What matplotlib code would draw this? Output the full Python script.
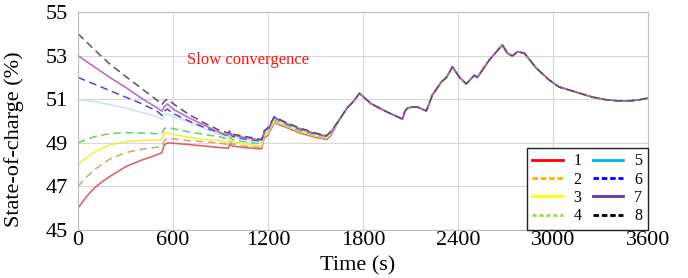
import matplotlib
matplotlib.use("Agg")
import matplotlib.pyplot as plt
from matplotlib.lines import Line2D

plt.rcParams['font.family'] = ['Liberation Serif', 'DejaVu Serif']

# ---- data ----
t_early = [0, 50, 100, 150, 200, 300, 400, 500, 530, 545, 565, 600, 700, 800, 900,
           950, 958, 975, 1050, 1160, 1175, 1200, 1240, 1300, 1400, 1500, 1570, 1600]

soc1 = [46.0, 46.5, 46.9, 47.2, 47.45, 47.9, 48.2, 48.45, 48.55, 48.9, 49.0, 48.98, 48.92, 48.85, 48.78,
        48.75, 48.95, 48.85, 48.78, 48.72, 49.2, 49.35, 49.92, 49.75, 49.45, 49.25, 49.15, 49.35]
soc2 = [47.0, 47.4, 47.75, 48.0, 48.25, 48.55, 48.7, 48.8, 48.85, 49.1, 49.22, 49.18, 49.1, 49.05, 48.98,
        48.92, 49.08, 48.95, 48.85, 48.78, 49.25, 49.4, 49.95, 49.78, 49.48, 49.28, 49.18, 49.38]
soc3 = [48.0, 48.3, 48.55, 48.75, 48.9, 49.05, 49.1, 49.12, 49.15, 49.4, 49.45, 49.38, 49.25, 49.15, 49.1,
        49.0, 49.2, 49.05, 48.95, 48.85, 49.3, 49.45, 50.0, 49.82, 49.52, 49.32, 49.22, 49.42]
soc4 = [49.0, 49.15, 49.27, 49.35, 49.42, 49.47, 49.45, 49.42, 49.42, 49.65, 49.72, 49.65, 49.5, 49.38, 49.27,
        49.15, 49.3, 49.15, 49.05, 48.95, 49.35, 49.5, 50.05, 49.85, 49.55, 49.35, 49.25, 49.45]
soc5 = [51.0, 50.95, 50.9, 50.82, 50.75, 50.6, 50.4, 50.2, 50.05, 50.25, 50.35, 50.2, 49.95, 49.65, 49.35,
        49.25, 49.4, 49.25, 49.15, 49.0, 49.4, 49.55, 50.1, 49.9, 49.6, 49.38, 49.27, 49.47]
soc6 = [52.0, 51.85, 51.7, 51.55, 51.4, 51.1, 50.8, 50.45, 50.25, 50.45, 50.55, 50.35, 50.0, 49.7, 49.45,
        49.3, 49.45, 49.3, 49.18, 49.08, 49.45, 49.6, 50.15, 49.92, 49.62, 49.4, 49.3, 49.5]
soc7 = [53.0, 52.75, 52.5, 52.25, 52.0, 51.55, 51.05, 50.6, 50.45, 50.65, 50.78, 50.55, 50.15, 49.8, 49.45,
        49.35, 49.5, 49.35, 49.25, 49.12, 49.5, 49.65, 50.18, 49.95, 49.65, 49.42, 49.32, 49.52]
soc8 = [54.0, 53.65, 53.3, 52.95, 52.62, 52.05, 51.5, 50.95, 50.75, 50.9, 51.0, 50.8, 50.3, 49.9, 49.55,
        49.45, 49.55, 49.4, 49.3, 49.15, 49.55, 49.7, 50.2, 49.98, 49.68, 49.45, 49.33, 49.55]

t_tail = [1650, 1700, 1740, 1778, 1850, 1950, 2049, 2065, 2081, 2113, 2144, 2200, 2238, 2295, 2327,
          2365, 2408, 2452, 2503, 2522, 2598, 2680, 2711, 2743, 2774, 2818, 2894, 2976, 3039, 3121,
          3247, 3330, 3417, 3480, 3543, 3600]
soc_tail = [50.05, 50.6, 50.9, 51.27, 50.8, 50.42, 50.09, 50.45, 50.6, 50.64, 50.64, 50.46, 51.19, 51.79, 52.0,
            52.48, 52.02, 51.7, 52.1, 52.0, 52.8, 53.49, 53.12, 52.98, 53.17, 53.12, 52.43, 51.88, 51.56, 51.38,
            51.1, 50.98, 50.92, 50.92, 50.97, 51.05]

series = [soc1, soc2, soc3, soc4, soc5, soc6, soc7, soc8]
labels = ['1', '2', '3', '4', '5', '6', '7', '8']
x_ticks = [0, 600, 1200, 1800, 2400, 3000, 3600]
y_ticks = [45, 47, 49, 51, 53, 55]

# ---- styles ----
plot_colors = ['#e05a5a', '#d9a07a', '#f2ee40', '#5fd35f', '#c8e4f4', '#4a4ad8', '#c060c8', '#555555']
plot_styles = ['-', (0, (5, 3)), '-', (0, (5, 3)), '-', (0, (5, 3)), '-', (0, (5, 3))]
leg_colors = ['#ff0000', '#ffb000', '#ffff00', '#99dd55', '#00b0f0', '#0000ff', '#7030a0', '#000000']
leg_styles = ['-', (0, (2, 1)), '-', (0, (1.5, 1)), '-', (0, (2, 1)), '-', (0, (2, 1))]

fig = plt.figure(figsize=(6.88, 2.78), dpi=100)
ax = fig.add_axes([78 / 688, 1 - 230 / 278, 570 / 688, 218 / 278])

t_full = t_early + t_tail
for s, c, ls in zip(series, plot_colors, plot_styles):
    ax.plot(t_full, s + soc_tail, color=c, linestyle=ls, linewidth=1.1)

ax.set_xlim(0, 3600)
ax.set_ylim(45, 55)
ax.set_xticks(x_ticks)
ax.set_yticks(y_ticks)
ax.tick_params(length=0, labelsize=16)
ax.tick_params(axis='y', pad=7)
ax.tick_params(axis='x', pad=1)
ax.grid(True, color='#d8d8d8', linewidth=0.8)
ax.set_axisbelow(True)
for sp in ax.spines.values():
    sp.set_color('#bdbdbd')
    sp.set_linewidth(0.8)

ax.set_xlabel('Time (s)', fontsize=16, labelpad=-4)
ax.xaxis.set_label_coords(0.49, -0.12, transform=ax.transAxes)
ax.xaxis.label.set_va('top')
ax.set_ylabel('State-of-charge (%)', fontsize=16)
ax.yaxis.set_label_coords(24 / 688, 0.5, transform=fig.transFigure)

ax.text(690, 52.8, 'Slow convergence', color='#ff1010', fontsize=12, va='center', ha='left')

handles = [Line2D([], [], color=c, linestyle=ls, linewidth=2) for c, ls in zip(leg_colors, leg_styles)]
leg = ax.legend(handles, labels, loc='lower right', ncol=2, fontsize=11.5,
                frameon=True, fancybox=False, edgecolor='#222222', framealpha=1,
                borderaxespad=0.0, handlelength=1.9, handletextpad=0.7, columnspacing=0.7,
                labelspacing=0.15, borderpad=0.35)
leg.get_frame().set_linewidth(1.0)

fig.savefig('out.png', dpi=100)
